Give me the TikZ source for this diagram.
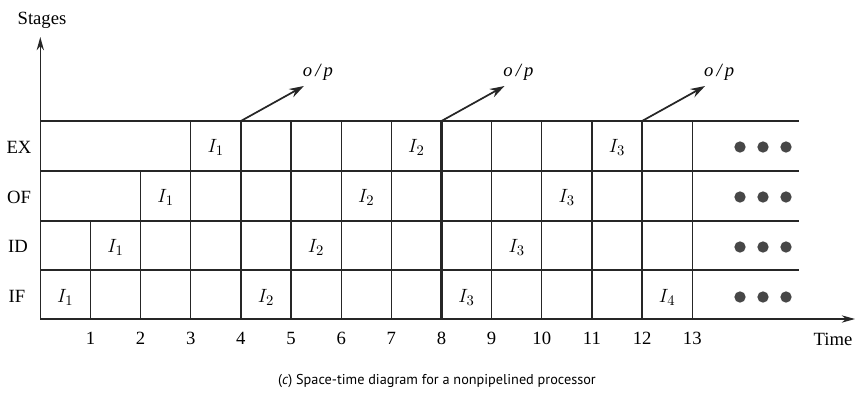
\documentclass[tikz,border=0pt]{standalone}
\usepackage{fontspec}
\setmainfont{Liberation Serif}
\setsansfont{PT Sans}
\usetikzlibrary{arrows.meta}
\begin{document}
\begin{tikzpicture}[x=0.75pt,y=-0.75pt,
  grid/.style={line width=1pt,draw=black!85},
  thickline/.style={line width=1.8pt,draw=black!85},
  axis/.style={line width=1pt,draw=black!85,-{Stealth[length=10pt,width=5.5pt]}},
  outarrow/.style={line width=1.3pt,draw=black!85,-{Stealth[length=11pt,width=7pt]}},
  lbl/.style={font=\fontsize{14}{16}\selectfont,inner sep=0pt},
  ilbl/.style={font=\fontsize{15.5}{17}\selectfont,inner sep=0pt},
  oplbl/.style={font=\fontsize{14}{16}\selectfont\itshape,inner sep=0pt},
  dot/.style={circle,fill=black!72,inner sep=0pt,minimum size=8.5pt},
  captext/.style={font=\fontsize{10.7}{14}\selectfont\sffamily,inner sep=0pt}]
\useasboundingbox (0,0) rectangle (856,400);
% origin and axes
\coordinate (O) at (40.3,319);
\coordinate (ytip) at (40.3,37);
\coordinate (xtip) at (855,319);
\draw[axis] (O) -- (ytip);
\draw[axis] (O) -- (xtip);
\node[lbl] (stages) at (42,20) {Stages};
\node[lbl] (time) at (833,339) {Time};
% horizontal grid lines
\foreach \y/\n in {121/h0,171/h1,221/h2,270/h3}{
  \coordinate (\n L) at (40.3,\y);
  \coordinate (\n R) at (799,\y);
  \draw[grid] (\n L) -- (\n R);
}
% vertical grid lines
\coordinate (v1t) at (90.45,221); \coordinate (v1b) at (90.45,319);
\draw[grid] (v1t) -- (v1b);
\coordinate (v2t) at (140.6,171); \coordinate (v2b) at (140.6,319);
\draw[grid] (v2t) -- (v2b);
\foreach \k in {3,5,6,7,9,10,11,13}{
  \coordinate (v\k t) at ({40.3+50.15*\k},121);
  \coordinate (v\k b) at ({40.3+50.15*\k},319);
  \draw[grid] (v\k t) -- (v\k b);
}
\foreach \k in {4,8,12}{
  \coordinate (v\k t) at ({40.3+50.15*\k},121);
  \coordinate (v\k b) at ({40.3+50.15*\k},319);
  \draw[thickline] (v\k t) -- (v\k b);
  \coordinate (op\k) at ({40.3+50.15*\k+63},86);
  \draw[outarrow] (v\k t) -- (op\k);
  \node[oplbl] (opl\k) at ({40.3+50.15*\k+77},72) {o\,/\,p};
}
% tick labels
\foreach \k in {1,...,13}{
  \node[lbl] (t\k) at ({40.3+50.15*\k},338) {\k};
}
% row labels
\node[lbl] (EX) at (19,147) {EX};
\node[lbl] (OF) at (19,197) {OF};
\node[lbl] (ID) at (18,246) {ID};
\node[lbl] (IF) at (17,296) {IF};
% instruction labels
\foreach \row/\yc in {3/147,2/197,1/247,0/297}{
  \foreach \i in {1,2,3}{
    \pgfmathtruncatemacro{\col}{\row+4*(\i-1)}
    \node[ilbl] (I\i r\row) at ({40.3+50.15*\col+25},\yc) {$I_{\i}$};
  }
}
\node[ilbl] (I4r0) at ({40.3+50.15*12+25},297) {$I_{4}$};
% dots
\foreach \y/\r in {147/a,197/b,247/c,297/d}{
  \foreach \x/\j in {740/1,763/2,786/3}{
    \node[dot] (d\r\j) at (\x,\y) {};
  }
}
% caption
\node[captext] (caption) at (437,381) {(\textit{c}) Space-time diagram for a nonpipelined processor};
\end{tikzpicture}
\end{document}
